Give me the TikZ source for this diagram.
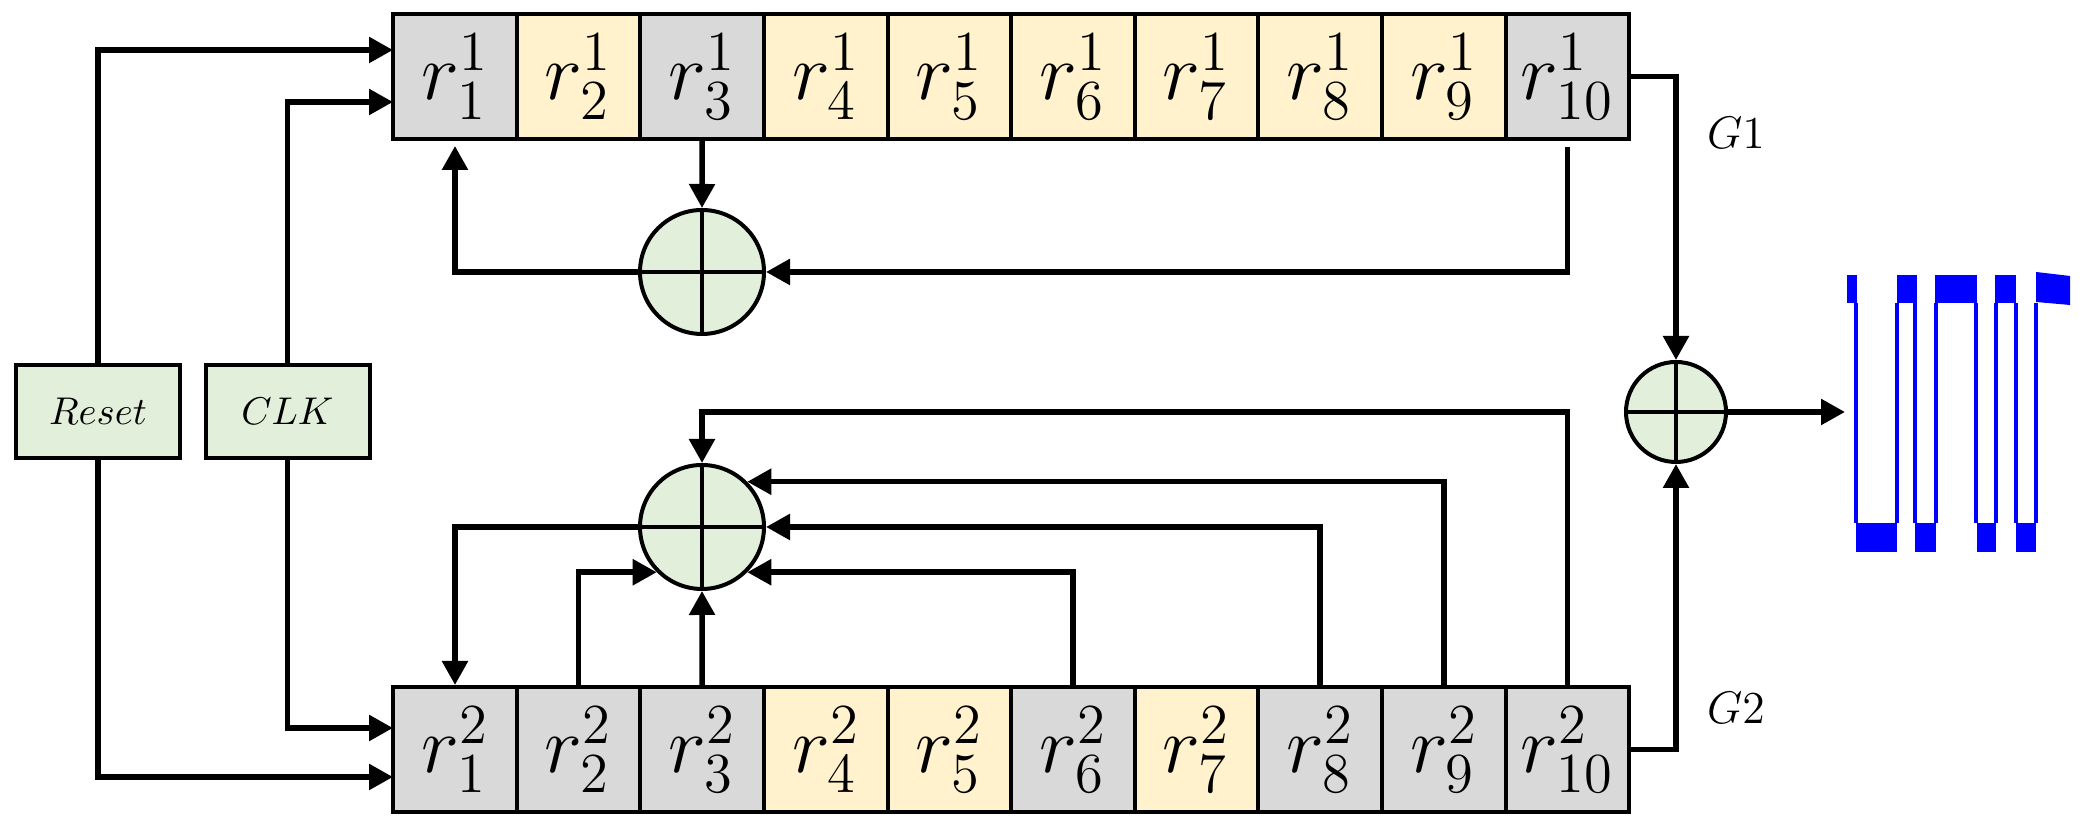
\documentclass[tikz,border=0pt]{standalone}
\usepackage{fix-cm}
\usepackage{tikz}
\usetikzlibrary{arrows.meta}

\definecolor{regGris}{HTML}{D9D9D9}
\definecolor{regAmar}{HTML}{FFF2CC}
\definecolor{xorVerde}{HTML}{E2EFDA}

\tikzset{
  celda/.style={draw=black, line width=0.04cm, minimum width=1.237cm, minimum height=1.25cm, inner sep=0pt,
    font=\fontsize{23}{23}\selectfont},
  caja/.style={draw=black, line width=0.04cm, fill=xorVerde, minimum width=1.64cm, minimum height=0.93cm,
    inner sep=0pt, font=\fontsize{11}{11}\selectfont},
  sumador/.style={circle, draw=black, line width=0.04cm, fill=xorVerde, inner sep=0pt,
    path picture={
      \draw[line width=0.04cm] (path picture bounding box.north) -- (path picture bounding box.south);
      \draw[line width=0.04cm] (path picture bounding box.west) -- (path picture bounding box.east);
    }},
  cable/.style={line width=0.055cm, -{Triangle[length=0.24cm, width=0.25cm]}},
  nivel/.style={blue, line width=0.04cm}
}

\begin{document}
\begin{tikzpicture}

  \useasboundingbox (0,0) rectangle (20.86,8.32);

  % Registros G1
  \foreach \i/\c in {1/regGris,2/regAmar,3/regGris,4/regAmar,5/regAmar,
                     6/regAmar,7/regAmar,8/regAmar,9/regAmar,10/regGris}
    \node[celda, fill=\c] (a\i) at ({4.55+1.236*(\i-1)},7.555) {$r_{\i}^{1}$};

  % Registros G2
  \foreach \i/\c in {1/regGris,2/regGris,3/regGris,4/regAmar,5/regAmar,
                     6/regGris,7/regAmar,8/regGris,9/regGris,10/regGris}
    \node[celda, fill=\c] (b\i) at ({4.55+1.236*(\i-1)},0.825) {$r_{\i}^{2}$};

  % Entradas
  \node[caja] (reset) at (0.98,4.205) {$Reset$};
  \node[caja] (clk) at (2.875,4.205) {$CLK$};

  % Sumadores
  \node[sumador, minimum size=1.24cm] (xorA) at (7.02,5.60) {};
  \node[sumador, minimum size=1.24cm] (xorB) at (7.02,3.05) {};
  \node[sumador, minimum size=1.00cm] (xorC) at (16.76,4.20) {};

  % Etiquetas
  \node[font=\fontsize{13}{13}\selectfont] (g1) at (17.36,6.99) {$G1$};
  \node[font=\fontsize{13}{13}\selectfont] (g2) at (17.36,1.24) {$G2$};

  \coordinate (inA) at (3.93,7.82);
  \coordinate (inB) at (3.93,7.30);
  \coordinate (inC) at (3.93,1.04);
  \coordinate (inD) at (3.93,0.55);
  \coordinate (arriba) at (7.02,4.20);
  \coordinate (salida) at (18.45,4.20);

  % Reset y reloj
  \draw[cable] (reset.north) |- (inA);
  \draw[cable] (clk.north) |- (inB);
  \draw[cable] (clk.south) |- (inC);
  \draw[cable] (reset.south) |- (inD);

  % Lazo G1
  \draw[cable] (a3.south) -- (xorA.north);
  \draw[cable, shorten <=0.06cm] (a10.south) |- (xorA.east);
  \draw[cable, shorten >=0.05cm] (xorA.west) -| (a1.south);

  % Lazo G2
  \draw[cable] (xorB.west) -| (b1.north);
  \draw[cable] (b2.north) |- (xorB.-135);
  \draw[cable] (b3.north) -- (xorB.south);
  \draw[cable] (b6.north) |- (xorB.-45);
  \draw[cable] (b8.north) |- (xorB.east);
  \draw[cable] (b9.north) |- (xorB.45);
  \draw[cable] (b10.north) |- (arriba) -- (xorB.north);

  % Salida
  \draw[cable] (a10.east) -| (xorC.north);
  \draw[cable] (b10.east) -| (xorC.south);
  \draw[cable] (xorC.east) -- (salida);

  % Señal
  \foreach \a/\b in {18.47/18.57,18.97/19.17,19.35/19.77,19.95/20.16}
    \fill[blue] (\a,5.29) rectangle (\b,5.57);
  \fill[blue] (20.36,5.30) -- (20.36,5.60) -- (20.70,5.56) -- (20.70,5.27) -- cycle;
  \foreach \a/\b in {18.56/18.97,19.15/19.36,19.77/19.96,20.16/20.36}
    \fill[blue] (\a,2.80) rectangle (\b,3.09);
  \foreach \x in {18.56,18.97,19.15,19.36,19.76,19.96,20.16,20.36}
    \draw[nivel] (\x,3.09) -- (\x,5.29);

\end{tikzpicture}
\end{document}
